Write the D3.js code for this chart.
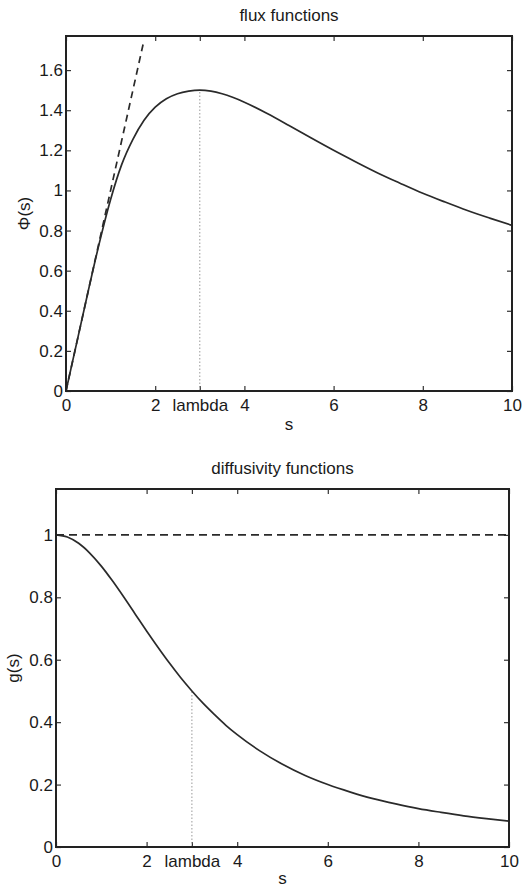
<!DOCTYPE html>
<html>
<head>
<meta charset="utf-8">
<script src="https://cdn.jsdelivr.net/npm/d3@7"></script>
<style>
  html, body { margin: 0; padding: 0; background: #fff; }
  svg text { font-family: "Liberation Sans", Arial, sans-serif; fill: #1a1a1a; }
</style>
</head>
<body>
<svg id="chart" width="526" height="888"></svg>
<script>
// ---- data ----
const sValues   = [0, 0.25, 0.5, 0.75, 1, 1.25, 1.5, 1.75, 2, 2.25, 2.5, 2.75, 3, 3.25, 3.5, 3.75, 4, 4.5, 5, 5.5, 6, 6.5, 7, 7.5, 8, 8.5, 9, 9.5, 10];
const phiValues = [0, 0.25, 0.50, 0.74, 0.955, 1.13, 1.255, 1.35, 1.415, 1.457, 1.482, 1.495, 1.500, 1.495, 1.482, 1.463, 1.440, 1.385, 1.324, 1.261, 1.200, 1.142, 1.086, 1.035, 0.986, 0.942, 0.900, 0.862, 0.826];
const gValues   = [1, 0.993, 0.973, 0.941, 0.900, 0.852, 0.800, 0.746, 0.692, 0.640, 0.590, 0.543, 0.500, 0.460, 0.424, 0.390, 0.360, 0.308, 0.265, 0.229, 0.200, 0.176, 0.155, 0.138, 0.123, 0.111, 0.100, 0.091, 0.083];
const linearS   = [0, 1.73];
const linearPhi = [0, 1.73];
const constS    = [0, 10];
const constG    = [1, 1];
const lambda    = 3;
const phiAtLambda = 1.5;
const gAtLambda   = 0.5;
const xTicks     = [0, 2, 3, 4, 6, 8, 10];
const xTickLabels = ["0", "2", "lambda", "4", "6", "8", "10"];
const phiTicks   = [0, 0.2, 0.4, 0.6, 0.8, 1, 1.2, 1.4, 1.6];
const gTicks     = [0, 0.2, 0.4, 0.6, 0.8, 1];

const svg = d3.select("#chart");
const FS = "17px";

function panel(opts) {
  const { left, right, top, bottom, yMax, yTicks, title, ylabel, series, vline, ylabelX, sY } = opts;
  const x = d3.scaleLinear().domain([0, 10]).range([left, right]);
  const y = d3.scaleLinear().domain([0, yMax]).range([bottom, top]);
  const g = svg.append("g");
  const clipId = "clip" + Math.round(top);
  svg.append("clipPath").attr("id", clipId)
    .append("rect").attr("x", left).attr("y", top).attr("width", right - left).attr("height", bottom - top);

  const fmt = d => (d === 0 ? "0" : String(+d.toFixed(1)));
  const ax = d3.axisBottom(x).tickValues(xTicks).tickSize(-5).tickPadding(8)
    .tickFormat((d, i) => xTickLabels[i]);
  const axT = d3.axisTop(x).tickValues(xTicks).tickSize(-5).tickFormat("");
  const ay = d3.axisLeft(y).tickValues(yTicks).tickSize(-5).tickPadding(3).tickFormat(fmt);
  const ayR = d3.axisRight(y).tickValues(yTicks).tickSize(-5).tickFormat("");

  const gx = g.append("g").attr("transform", `translate(0,${bottom})`).call(ax);
  const gxT = g.append("g").attr("transform", `translate(0,${top})`).call(axT);
  const gy = g.append("g").attr("transform", `translate(${left},0)`).call(ay);
  const gyR = g.append("g").attr("transform", `translate(${right},0)`).call(ayR);
  [gx, gxT, gy, gyR].forEach(a => {
    a.select(".domain").remove();
    a.selectAll(".tick line").attr("stroke", "#333").attr("stroke-width", 1.2);
    a.selectAll("text").style("font-size", FS).attr("fill", "#1a1a1a");
  });

  const line = d3.line().x(d => x(d[0])).y(d => y(d[1])).curve(d3.curveMonotoneX);
  const plot = g.append("g").attr("clip-path", `url(#${clipId})`);
  plot.append("line")
    .attr("x1", x(vline[0])).attr("x2", x(vline[0]))
    .attr("y1", y(0)).attr("y2", y(vline[1]))
    .attr("stroke", "#999").attr("stroke-width", 1).attr("stroke-dasharray", "1.5,2");
  series.forEach(s => {
    plot.append("path").datum(s.xs.map((v, i) => [v, s.ys[i]]))
      .attr("d", line).attr("fill", "none")
      .attr("stroke", "#2a2a2a").attr("stroke-width", 1.7)
      .attr("stroke-dasharray", s.dash || null);
  });

  g.append("rect").attr("x", left).attr("y", top)
    .attr("width", right - left).attr("height", bottom - top)
    .attr("fill", "none").attr("stroke", "#222").attr("stroke-width", 2);

  g.append("text").attr("x", (left + right) / 2).attr("y", top - 15)
    .attr("text-anchor", "middle").style("font-size", FS).text(title);
  g.append("text").attr("x", (left + right) / 2).attr("y", bottom + sY)
    .attr("text-anchor", "middle").style("font-size", FS).text("s");
  g.append("text").attr("transform", `translate(${ylabelX},${(top + bottom) / 2}) rotate(-90)`)
    .attr("text-anchor", "middle").style("font-size", FS).text(ylabel);
}

panel({
  left: 66, right: 512, top: 36, bottom: 391, yMax: 1.77, yTicks: phiTicks,
  title: "flux functions", ylabel: "\u03A6(s)", ylabelX: 30, sY: 39,
  vline: [lambda, phiAtLambda],
  series: [
    { xs: linearS, ys: linearPhi, dash: "7,5" },
    { xs: sValues, ys: phiValues }
  ]
});

panel({
  left: 56, right: 509, top: 489, bottom: 847, yMax: 1.147, yTicks: gTicks,
  title: "diffusivity functions", ylabel: "g(s)", ylabelX: 19, sY: 37,
  vline: [lambda, gAtLambda],
  series: [
    { xs: constS, ys: constG, dash: "8,5" },
    { xs: sValues, ys: gValues }
  ]
});
</script>
</body>
</html>
